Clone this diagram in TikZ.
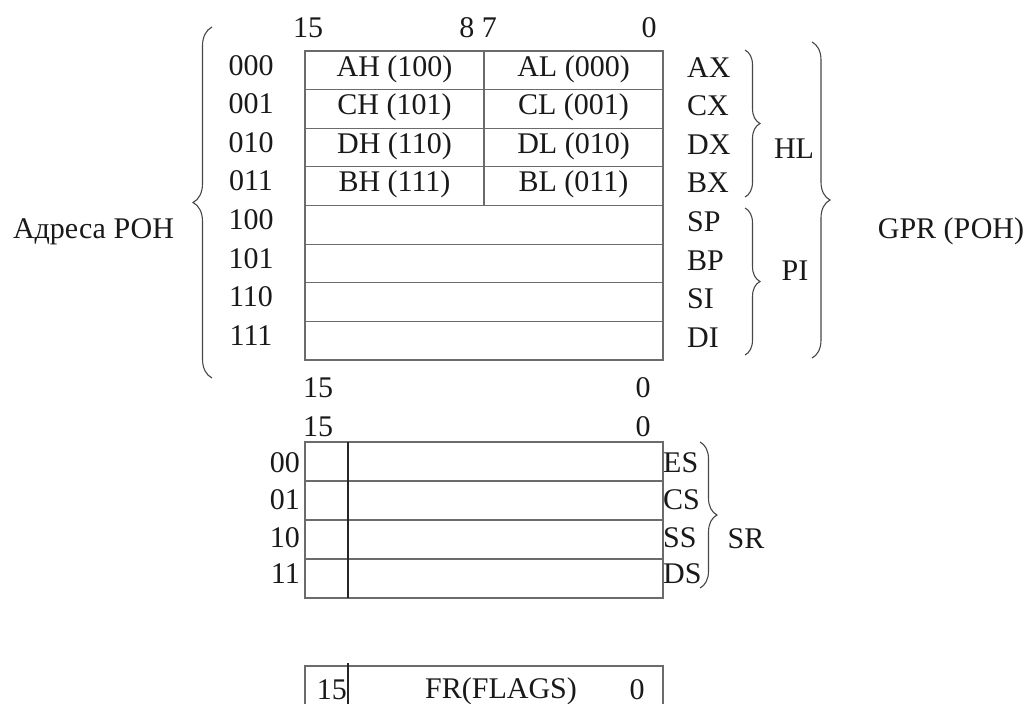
\documentclass[tikz,border=0pt]{standalone}
\usepackage{fontspec}
\setmainfont{Liberation Serif}
\usetikzlibrary{decorations.pathreplacing,calc}
\newcommand\tnrsize{\fontsize{30}{36}\selectfont}
\definecolor{linec}{gray}{0.42}
\definecolor{brac}{gray}{0.28}
\definecolor{txtc}{gray}{0.1}
\begin{document}
\begin{tikzpicture}[x=1pt,y=-1pt,
  every node/.style={font=\tnrsize, text=txtc},
  halfcell/.style={draw=linec, line width=1.2pt, inner sep=0pt, outer sep=0pt, anchor=north west,
    minimum width=179pt, minimum height=38.625pt, text height=20pt, text depth=8.6pt},
  fullcell/.style={draw=linec, line width=1.2pt, inner sep=0pt, outer sep=0pt, anchor=north west,
    minimum width=358pt, minimum height=38.625pt},
  srcell/.style={draw=linec, line width=1.2pt, inner sep=0pt, outer sep=0pt, anchor=north west,
    minimum width=358pt, minimum height=39pt},
  lbl/.style={inner sep=0pt, anchor=base},
  lblw/.style={inner sep=0pt, anchor=base west},
  lble/.style={inner sep=0pt, anchor=base east},
  brc/.style={decorate, decoration={brace, amplitude=#1}, draw=brac, line width=1.1pt},
  divline/.style={draw=black!85, line width=1.2pt}]
\useasboundingbox (0,0) rectangle (1031,704);

% bit numbers above the GPR table
\node[lbl] (b15) at (308,37) {15};
\node[lbl] (b87) at (478,37) {8 7};
\node[lbl] (b0) at (649,37) {0};

% GPR rows with halves
\foreach \i/\h/\l in {0/AH (100)/AL (000),1/CH (101)/CL (001),2/DH (110)/DL (010),3/BH (111)/BL (011)}{
  \node[halfcell] (gh\i) at (305,{51+38.625*\i}) {\h};
  \node[halfcell] (gl\i) at (484,{51+38.625*\i}) {\l};
}
\foreach \i in {4,5,6,7}{
  \node[fullcell] (g\i) at (305,{51+38.625*\i}) {};
}
% addresses and register names
\foreach \i/\a/\r in {0/000/AX,1/001/CX,2/010/DX,3/011/BX,4/100/SP,5/101/BP,6/110/SI,7/111/DI}{
  \node[lbl] (ga\i) at (251,{51+38.625*\i+24}) {\a};
  \node[lblw] (gr\i) at (687,{51+38.625*\i+26}) {\r};
}

% braces of the GPR part
\coordinate (lbT) at (212,27);  \coordinate (lbB) at (212,378);
\coordinate (hlT) at (745,50);  \coordinate (hlB) at (745,197);
\coordinate (piT) at (745,208); \coordinate (piB) at (745,355);
\coordinate (gpT) at (812,42);  \coordinate (gpB) at (812,358);
\draw[brc=19pt] (lbB) -- (lbT);
\draw[brc=15pt] (hlT) -- (hlB);
\draw[brc=15pt] (piT) -- (piB);
\draw[brc=18pt] (gpT) -- (gpB);

\node[lbl] (adr) at (93.5,238) {Адреса РОН};
\node[lbl] (hl) at (794,158) {HL};
\node[lbl] (pi) at (795,280) {PI};
\node[lbl] (gpr) at (951,238) {GPR (РОН)};

% bit numbers between the tables
\node[lbl] (c15a) at (318,397) {15};
\node[lbl] (c0a) at (643,397) {0};
\node[lbl] (c15b) at (318,436) {15};
\node[lbl] (c0b) at (643,436) {0};

% segment registers
\foreach \i/\a/\r/\bl in {0/00/ES/472,1/01/CS/509,2/10/SS/547,3/11/DS/583}{
  \node[srcell] (s\i) at (305,{442+39*\i}) {};
  \node[lble] (sa\i) at (300,\bl) {\a};
  \node[lblw] (sr\i) at (663,\bl) {\r};
}
\coordinate (sdT) at (348,442); \coordinate (sdB) at (348,598);
\draw[divline] (sdT) -- (sdB);
\coordinate (srT) at (700,442); \coordinate (srB) at (700,588);
\draw[brc=17pt] (srT) -- (srB);
\node[lbl] (srl) at (746,548) {SR};

% flags register
\node[draw=linec, line width=1.2pt, inner sep=0pt, outer sep=0pt, anchor=north west,
  minimum width=358pt, minimum height=50pt] (fr) at (305,666) {};
\coordinate (fdT) at (348,663); \coordinate (fdB) at (348,704);
\draw[divline] (fdT) -- (fdB);
\node[lble] (f15) at (347,699) {15};
\node[lbl] (fname) at (501,698) {FR(FLAGS)};
\node[lbl] (f0) at (637,699) {0};
\end{tikzpicture}
\end{document}
